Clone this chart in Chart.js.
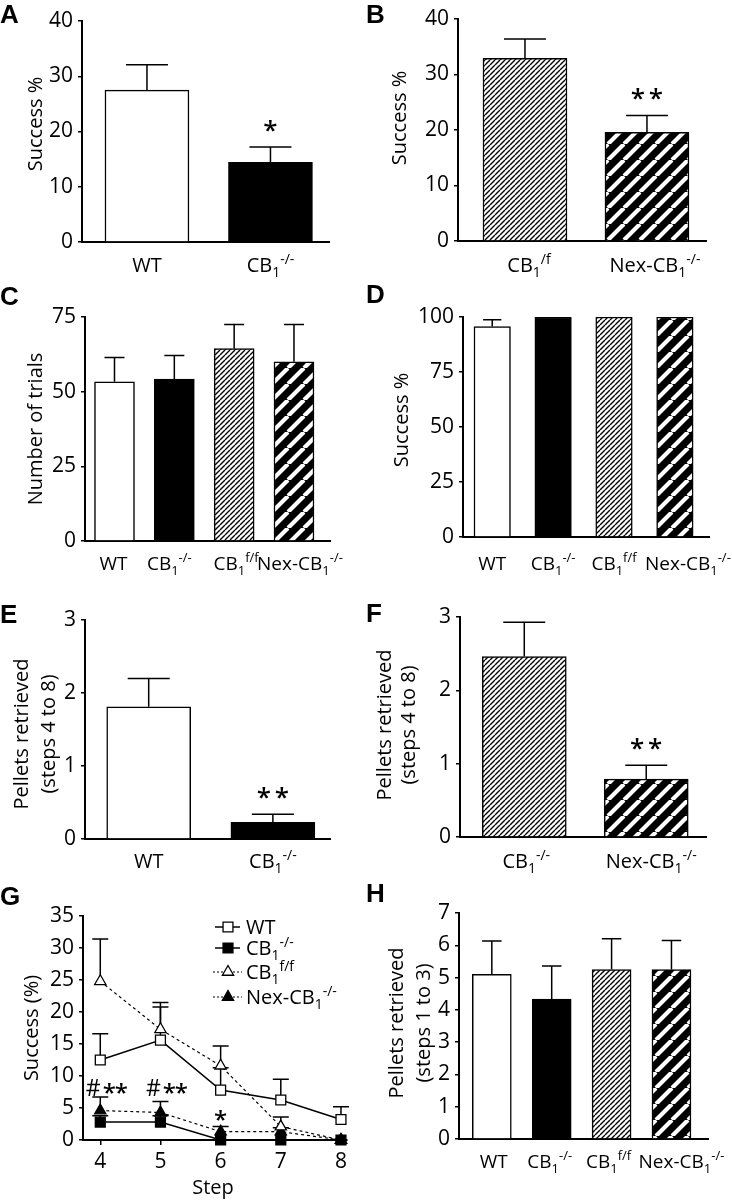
<!DOCTYPE html>
<html><head><meta charset="utf-8">
<script src="https://cdn.jsdelivr.net/npm/chart.js@4.4.1/dist/chart.umd.min.js"></script>
<style>
html,body{margin:0;padding:0;background:#fff;}
#wrap{position:relative;width:732px;height:1200px;overflow:hidden;background:#fff;}
#wrap canvas{position:absolute;left:0;top:0;}
</style></head><body><div id="wrap"></div>
<script>
// ================= DATA =================
// Panel A
const catsA = ['WT', 'CB_1^-/-'];
const meanA = [27.5, 14.4];
const semA  = [4.6, 2.8];
const sigA  = ['', '*'];
const ticksA = [0, 10, 20, 30, 40];
// Panel B
const catsB = ['CB_1^/f', 'Nex-CB_1^-/-'];
const meanB = [32.9, 19.6];
const semB  = [3.5, 3.0];
const sigB  = ['', '**'];
const ticksB = [0, 10, 20, 30, 40];
// Panels C, D, H share four groups
const cats4 = ['WT', 'CB_1^-/-', 'CB_1^f/f', 'Nex-CB_1^-/-'];
const meanC = [53.3, 54.2, 64.4, 60.0];
const semC  = [8.1, 7.9, 8.1, 12.5];
const ticksC = [0, 25, 50, 75];
const meanD = [95.7, 100, 100, 100];
const semD  = [3.1, 0, 0, 0];
const ticksD = [0, 25, 50, 75, 100];
// Panel E
const catsE = ['WT', 'CB_1^-/-'];
const meanE = [1.81, 0.23];
const semE  = [0.39, 0.11];
const sigE  = ['', '**'];
const ticksE = [0, 1, 2, 3];
// Panel F
const catsF = ['CB_1^-/-', 'Nex-CB_1^-/-'];
const meanF = [2.46, 0.79];
const semF  = [0.47, 0.19];
const sigF  = ['', '**'];
const ticksF = [0, 1, 2, 3];
// Panel G
const steps = [4, 5, 6, 7, 8];
const namesG = ['WT', 'CB_1^-/-', 'CB_1^f/f', 'Nex-CB_1^-/-'];
const wtG    = [12.5, 15.6, 7.8, 6.25, 3.2];
const semWtG = [4.1, 5.2, 3.5, 3.25, 2.0];
const cbG    = [2.8, 2.8, 0, 0, 0];
const semCbG = [1.0, 1.0, 0, 0, 0];
const ffG    = [24.8, 17.3, 11.6, 2.1, 0];
const semFfG = [6.6, 4.2, 3.1, 1.5, 0];
const nexG   = [4.6, 4.3, 1.3, 1.3, 0];
const semNexG= [2.1, 1.7, 0.8, 0.6, 0];
const sigG   = ['#**', '#**', '*', '', ''];
const ticksG = [0, 5, 10, 15, 20, 25, 30, 35];
// Panel H
const meanH = [5.10, 4.33, 5.25, 5.25];
const semH  = [1.03, 1.03, 0.95, 0.90];
const ticksH = [0, 1, 2, 3, 4, 5, 6, 7];

// ================= HELPERS =================
const W = 732, H = 1200;
const FONT = '"Open Sans", "Noto Sans", sans-serif';
const BOLD = 'bold 26px "Liberation Sans", Arial, sans-serif';
Chart.defaults.font.family = FONT;
Chart.defaults.color = '#000';
const wrap = document.getElementById('wrap');

function tile(kind) {
  const c = document.createElement('canvas');
  const x = c.getContext('2d');
  if (kind === 'fine') {
    const s = 5; c.width = c.height = s;
    x.fillStyle = '#fff'; x.fillRect(0, 0, s, s);
    x.strokeStyle = '#000'; x.lineWidth = 1.4;
    x.beginPath();
    for (let k = -1; k <= 1; k++) { x.moveTo(k * s, s); x.lineTo(k * s + s, 0); }
    x.stroke();
  } else {
    const s = 16; c.width = c.height = s;
    x.fillStyle = '#000'; x.fillRect(0, 0, s, s);
    x.strokeStyle = '#fff'; x.lineWidth = 4.2;
    x.beginPath();
    for (let k = -1; k <= 1; k++) { x.moveTo(k * s, s); x.lineTo(k * s + s, 0); }
    x.stroke();
  }
  return c;
}
const TILES = { fine: tile('fine'), stripe: tile('stripe') };

function newCanvas() {
  const cv = document.createElement('canvas');
  cv.width = W; cv.height = H;
  cv.style.width = W + 'px'; cv.style.height = H + 'px';
  wrap.appendChild(cv);
  return cv;
}

function parseRich(s) {
  const segs = []; let buf = ''; let i = 0;
  while (i < s.length) {
    const ch = s[i];
    if (ch === '_') { if (buf) { segs.push({ t: buf, k: 'n' }); buf = ''; } segs.push({ t: s[i + 1], k: 'sub' }); i += 2; continue; }
    if (ch === '^') { if (buf) { segs.push({ t: buf, k: 'n' }); buf = ''; } segs.push({ t: s.slice(i + 1), k: 'sup' }); i = s.length; break; }
    buf += ch; i++;
  }
  if (buf) segs.push({ t: buf, k: 'n' });
  return segs;
}
function drawRich(ctx, s, x, y, size, align) {
  const segs = parseRich(s);
  const small = Math.round(size * 0.68);
  let w = 0;
  segs.forEach(g => { ctx.font = (g.k === 'n' ? size : small) + 'px ' + FONT; g.w = ctx.measureText(g.t).width; w += g.w; });
  let cx = align === 'center' ? x - w / 2 : x;
  ctx.textAlign = 'left'; ctx.textBaseline = 'alphabetic'; ctx.fillStyle = '#000';
  segs.forEach(g => {
    ctx.font = (g.k === 'n' ? size : small) + 'px ' + FONT;
    const dy = g.k === 'sub' ? size * 0.27 : (g.k === 'sup' ? -size * 0.40 : 0);
    ctx.fillText(g.t, cx, y + dy);
    cx += g.w;
  });
}
function drawStar(ctx, x, cy, size) {
  ctx.font = '600 ' + size + 'px ' + FONT; ctx.textAlign = 'center'; ctx.textBaseline = 'alphabetic';
  ctx.fillStyle = '#000';
  ctx.fillText('*', x, cy + size * 0.6);
}
function drawTitle(ctx, t) {
  ctx.save();
  ctx.fillStyle = '#000'; ctx.font = '20px ' + FONT;
  ctx.textAlign = 'center'; ctx.textBaseline = 'alphabetic';
  t.lines.forEach((ln, i) => {
    ctx.save(); ctx.translate(t.xs[i], t.y); ctx.rotate(-Math.PI / 2);
    ctx.fillText(ln, 0, 0); ctx.restore();
  });
  ctx.restore();
}
function drawLetter(ctx, L) {
  ctx.save(); ctx.font = BOLD; ctx.fillStyle = '#000'; ctx.textAlign = 'left'; ctx.textBaseline = 'alphabetic';
  ctx.fillText(L[0], L[1], L[2]); ctx.restore();
}

function yScaleOpts(ticks, leftPx) {
  return {
    min: ticks[0], max: ticks[ticks.length - 1],
    afterBuildTicks: s => { s.ticks = ticks.map(v => ({ value: v })); },
    grid: { display: true, drawOnChartArea: false, drawTicks: true, tickLength: 4, color: '#000', lineWidth: 1.5 },
    border: { display: true, color: '#000', width: 2 },
    ticks: { color: '#000', font: { family: FONT, size: 21 }, padding: 5 },
    afterFit: s => { s.width = leftPx; }
  };
}

function barPanel(o) {
  const cv = newCanvas();
  const ctx = cv.getContext('2d');
  const fills = o.fills.map(f => f === 'white' ? '#fff' : f === 'black' ? '#000' : ctx.createPattern(TILES[f], 'repeat'));
  const plugin = {
    id: 'panel' + o.letter[0],
    afterDatasetsDraw(chart) {
      const c = chart.ctx, xs = chart.scales.x, ys = chart.scales.y;
      c.save();
      c.strokeStyle = '#000'; c.lineWidth = 1.5;
      o.mean.forEach((v, i) => {
        const x = xs.getPixelForValue(i);
        const yT = ys.getPixelForValue(v);
        const yE = ys.getPixelForValue(v + o.sem[i]);
        if (o.sem[i] > 0) {
          c.beginPath(); c.moveTo(x, yT); c.lineTo(x, yE);
          c.moveTo(x - o.barW / 4, yE); c.lineTo(x + o.barW / 4, yE); c.stroke();
        }
        const s = o.sig ? o.sig[i] : '';
        if (s) {
          const n = s.length;
          for (let k = 0; k < n; k++) drawStar(c, x + (k - (n - 1) / 2) * 18, yE - 24, 26);
        }
      });
      c.restore();
    },
    afterDraw(chart) {
      const c = chart.ctx, xs = chart.scales.x;
      c.save();
      o.cats.forEach((lab, i) => drawRich(c, lab, xs.getPixelForValue(i) + o.shift[i], o.labelY, o.labelSize, 'center'));
      drawTitle(c, o.title);
      drawLetter(c, o.letter);
      c.restore();
    }
  };
  new Chart(cv, {
    type: 'bar',
    data: { datasets: [{ data: o.mean.map((v, i) => ({ x: i, y: v })), backgroundColor: fills, borderColor: '#000', borderWidth: 1.5, barThickness: o.barW, borderSkipped: 'start' }] },
    plugins: [plugin],
    options: {
      responsive: false, animation: false, events: [], devicePixelRatio: 1,
      layout: { autoPadding: false, padding: { left: 0, top: o.area[1], right: W - o.area[2], bottom: H - o.area[3] } },
      plugins: { legend: { display: false }, tooltip: { enabled: false } },
      scales: {
        x: { type: 'linear', min: o.xMin, max: o.xMax, offset: false,
             grid: { display: false, offset: false }, border: { display: true, color: '#000', width: 2 },
             ticks: { display: false }, afterFit: s => { s.height = 0; } },
        y: yScaleOpts(o.ticks, o.area[0])
      }
    }
  });
}

// ================= PANELS =================
barPanel({ letter: ['A', 0, 23], area: [82, 21, 329, 242], xMin: -0.526, xMax: 1.474, barW: 84,
  cats: catsA, mean: meanA, sem: semA, sig: sigA, ticks: ticksA, fills: ['white', 'black'],
  labelY: 272, labelSize: 20, shift: [0, 0], title: { lines: ['Success %'], xs: [42], y: 124 } });

barPanel({ letter: ['B', 366, 23], area: [458, 19, 706, 241], xMin: -0.549, xMax: 1.484, barW: 84,
  cats: catsB, mean: meanB, sem: semB, sig: sigB, ticks: ticksB, fills: ['fine', 'stripe'],
  labelY: 272, labelSize: 20, shift: [4, 8], title: { lines: ['Success %'], xs: [406], y: 118 } });

barPanel({ letter: ['C', 0, 305], area: [85, 317, 330, 541], xMin: -0.493, xMax: 3.602, barW: 40,
  cats: cats4, mean: meanC, sem: semC, sig: null, ticks: ticksC, fills: ['white', 'black', 'fine', 'stripe'],
  labelY: 570, labelSize: 19, shift: [-1, -5, 2, 6], title: { lines: ['Number of trials'], xs: [42], y: 429 } });

barPanel({ letter: ['D', 366, 303], area: [463, 317, 709, 537], xMin: -0.48, xMax: 3.56, barW: 36.5,
  cats: cats4, mean: meanD, sem: semD, sig: null, ticks: ticksD, fills: ['white', 'black', 'fine', 'stripe'],
  labelY: 570, labelSize: 19, shift: [0, 0, 0, 13], title: { lines: ['Success %'], xs: [408], y: 420 } });

barPanel({ letter: ['E', 0, 623], area: [85, 620, 330, 839], xMin: -0.513, xMax: 1.46, barW: 84,
  cats: catsE, mean: meanE, sem: semE, sig: sigE, ticks: ticksE, fills: ['white', 'black'],
  labelY: 868, labelSize: 20, shift: [0, 0], title: { lines: ['Pellets retrieved', '(steps 4 to 8)'], xs: [28, 55], y: 734 } });

barPanel({ letter: ['F', 366, 622], area: [460, 617, 706, 837], xMin: -0.527, xMax: 1.49, barW: 84,
  cats: catsF, mean: meanF, sem: semF, sig: sigF, ticks: ticksF, fills: ['fine', 'stripe'],
  labelY: 868, labelSize: 20, shift: [2, 5], title: { lines: ['Pellets retrieved', '(steps 4 to 8)'], xs: [391, 415], y: 725 } });

barPanel({ letter: ['H', 366, 902], area: [459, 913, 708, 1139], xMin: -0.548, xMax: 3.61, barW: 39,
  cats: cats4, mean: meanH, sem: semH, sig: null, ticks: ticksH, fills: ['white', 'black', 'fine', 'stripe'],
  labelY: 1168, labelSize: 19, shift: [2, -2, -3, 10], title: { lines: ['Pellets retrieved', '(steps 1 to 3)'], xs: [403, 430], y: 1023 } });

// ---- Panel G (line chart) ----
(function () {
  const cv = newCanvas();
  const series = [wtG, cbG, ffG, nexG];
  const sems = [semWtG, semCbG, semFfG, semNexG];
  const st = [
    { ps: 'rect', r: 7, fill: '#fff', dash: [], lw: 1.5 },
    { ps: 'rect', r: 7, fill: '#000', dash: [], lw: 1.5 },
    { ps: 'triangle', r: 6.5, fill: '#fff', dash: [3, 3], lw: 1.2 },
    { ps: 'triangle', r: 6.5, fill: '#000', dash: [3, 3], lw: 1.2 }
  ];
  const area = [83, 916, 347, 1140];
  const plugin = {
    id: 'panelG',
    beforeDatasetsDraw(chart) {
      const c = chart.ctx, ys = chart.scales.y;
      c.save(); c.strokeStyle = '#000'; c.lineWidth = 1.5; c.setLineDash([]);
      series.forEach((s, k) => {
        const meta = chart.getDatasetMeta(k);
        s.forEach((v, i) => {
          if (sems[k][i] <= 0) return;
          const x = meta.data[i].x, y0 = ys.getPixelForValue(v), y1 = ys.getPixelForValue(v + sems[k][i]);
          c.beginPath(); c.moveTo(x, y0); c.lineTo(x, y1); c.moveTo(x - 8, y1); c.lineTo(x + 8, y1); c.stroke();
        });
      });
      c.restore();
    },
    afterDraw(chart) {
      const c = chart.ctx, xs = chart.scales.x, ys = chart.scales.y;
      c.save();
      // significance marks
      sigG.forEach((s, i) => {
        if (!s) return;
        const x = xs.getPixelForValue(steps[i]);
        if (s[0] === '#') {
          const cy = ys.getPixelForValue(8.1);
          c.font = '23px ' + FONT; c.textAlign = 'center'; c.textBaseline = 'alphabetic'; c.fillStyle = '#000';
          c.fillText('#', x - 7, cy + 23 * 0.36);
          for (let k = 1; k < s.length; k++) drawStar(c, x - 3 + k * 12, cy - 2, 24);
        } else {
          drawStar(c, x, ys.getPixelForValue(4.2), 24);
        }
      });
      // legend
      const rows = [927, 948, 972, 997];
      rows.forEach((ry, k) => {
        c.save();
        c.strokeStyle = '#000'; c.lineWidth = st[k].lw; c.setLineDash(k < 2 ? [] : [2, 2]);
        c.beginPath(); c.moveTo(k < 2 ? 215 : 213, ry); c.lineTo(k < 2 ? 240 : 242, ry); c.stroke();
        c.setLineDash([]);
        c.fillStyle = st[k].fill; c.strokeStyle = '#000'; c.lineWidth = 1.3;
        Chart.helpers.drawPoint(c, { pointStyle: st[k].ps, radius: st[k].r, borderWidth: 1.3, rotation: 0 }, 228, ry);
        c.restore();
        drawRich(c, namesG[k], 246, ry + 7, 20, 'left');
      });
      // titles
      drawTitle(c, { lines: ['Success (%)'], xs: [38], y: 1028 });
      c.font = '20px ' + FONT; c.textAlign = 'center'; c.textBaseline = 'alphabetic'; c.fillStyle = '#000';
      c.fillText('Step', 213, 1194);
      drawLetter(c, ['G', 0, 905]);
      c.restore();
    }
  };
  new Chart(cv, {
    type: 'line',
    data: {
      datasets: series.map((s, k) => ({
        label: namesG[k],
        data: steps.map((x, i) => ({ x: x, y: s[i] })),
        borderColor: '#000', borderWidth: st[k].lw, borderDash: st[k].dash,
        pointStyle: st[k].ps, pointRadius: st[k].r, pointBackgroundColor: st[k].fill,
        pointBorderColor: '#000', pointBorderWidth: 1.3, tension: 0, clip: false, fill: false
      }))
    },
    plugins: [plugin],
    options: {
      responsive: false, animation: false, events: [], devicePixelRatio: 1,
      layout: { autoPadding: false, padding: { left: 0, top: area[1], right: W - area[2], bottom: 0 } },
      plugins: { legend: { display: false }, tooltip: { enabled: false } },
      scales: {
        x: { type: 'linear', min: 3.713, max: 8.1,
             afterBuildTicks: s => { s.ticks = steps.map(v => ({ value: v })); },
             grid: { display: true, drawOnChartArea: false, drawTicks: true, tickLength: 5, color: '#000', lineWidth: 1.5 },
             border: { display: true, color: '#000', width: 2 },
             ticks: { color: '#000', font: { family: FONT, size: 21 }, padding: 4, maxRotation: 0, autoSkip: false },
             afterFit: s => { s.height = H - area[3]; } },
        y: yScaleOpts(ticksG, area[0])
      }
    }
  });
})();
</script>
</body></html>
